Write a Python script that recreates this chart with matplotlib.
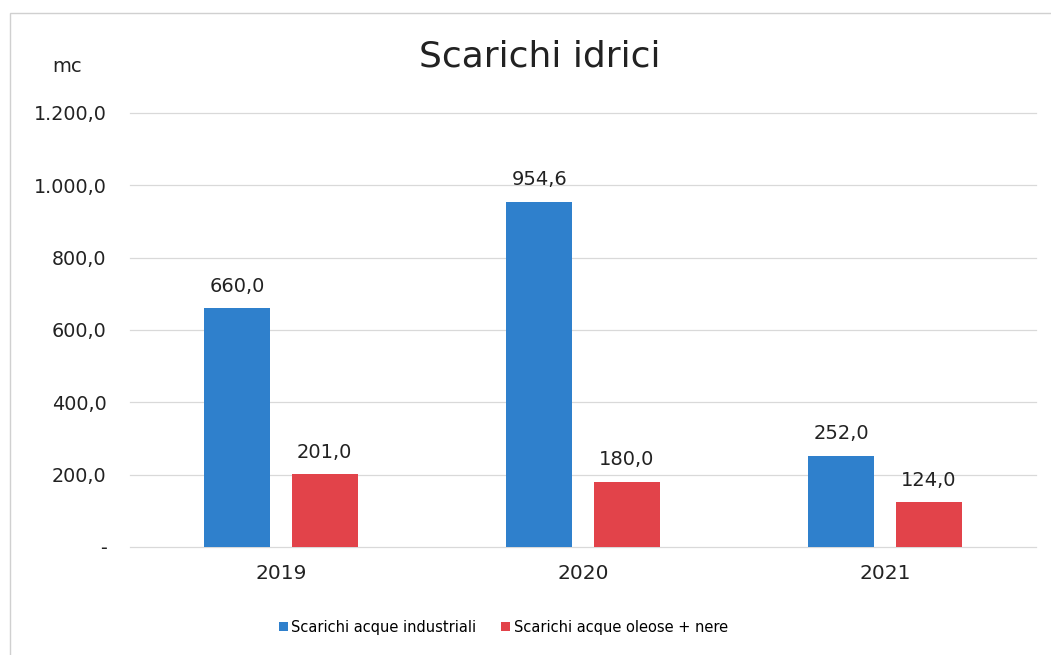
import matplotlib.pyplot as plt
from matplotlib.patches import Rectangle
import numpy as np

# Scarichi idrici (mc) per anno
years = ['2019', '2020', '2021']
industriali = [660.0, 954.6, 252.0]
oleose_nere = [201.0, 180.0, 124.0]
series_names = ['Scarichi acque industriali', 'Scarichi acque oleose + nere']
y_ticks = [0, 200, 400, 600, 800, 1000, 1200]

blue = '#2F80CC'
red = '#E2434A'
txt = '#222222'


def it_fmt(v):
    # formato italiano: 1.200,0 ; zero come trattino
    if v == 0:
        return '-'
    s = f'{v:,.1f}'
    return s.replace(',', 'X').replace('.', ',').replace('X', '.')


fig = plt.figure(figsize=(10.51, 6.55), dpi=100)
ax = fig.add_axes([0.1237, 0.1649, 0.862, 0.6626])

x = np.arange(len(years))
w = 0.22
off = 0.145
b1 = ax.bar(x - off, industriali, w, color=blue, label=series_names[0], zorder=3)
b2 = ax.bar(x + off, oleose_nere, w, color=red, label=series_names[1], zorder=3)

for bars, vals in ((b1, industriali), (b2, oleose_nere)):
    for r, v in zip(bars, vals):
        ax.annotate(it_fmt(v), (r.get_x() + r.get_width() / 2, v),
                    xytext=(0, 9), textcoords='offset points',
                    ha='center', va='bottom', fontsize=14, color=txt)

ax.set_xlim(-0.5, 2.5)
ax.set_ylim(0, 1200)
ax.set_xticks(x)
ax.set_xticklabels(years, fontsize=14.5, color=txt)
ax.set_yticks(y_ticks)
ax.set_yticklabels([it_fmt(v) for v in y_ticks], fontsize=13.8, color=txt)
ax.tick_params(length=0)
ax.tick_params(axis='y', pad=17)
ax.tick_params(axis='x', pad=12)
ax.grid(axis='y', color='#d9d9d9', linewidth=0.9, zorder=0)
for gl in ax.get_ygridlines():
    gl.set_clip_on(False)
for s in ax.spines.values():
    s.set_visible(False)

fig.text(0.514, 0.913, 'Scarichi idrici', ha='center', va='center', fontsize=26, color=txt)
fig.text(0.064, 0.898, 'mc', ha='center', va='center', fontsize=14, color=txt)

fig.legend(handles=[b1, b2], labels=series_names, loc='center', bbox_to_anchor=(0.479, 0.042),
           ncol=2, frameon=False, fontsize=10.5, handlelength=0.6, handleheight=0.6,
           handletextpad=0.25, columnspacing=1.7)

fig.add_artist(Rectangle((0.0095, -0.01), 1.2, 0.99, transform=fig.transFigure,
                         fill=False, edgecolor='#d0d0d0', linewidth=1.0))

fig.savefig('out.png', dpi=100)
